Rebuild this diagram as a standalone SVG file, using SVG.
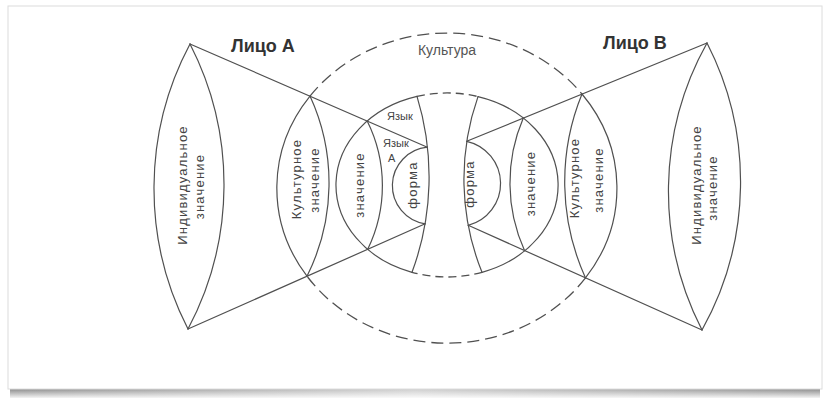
<svg xmlns="http://www.w3.org/2000/svg" width="830" height="399" viewBox="0 0 830 399">
<defs>
<style>
.ln{fill:none;stroke:#505050;stroke-width:1.2;stroke-linecap:round}
.dB{fill:none;stroke:#505050;stroke-width:1.3;stroke-dasharray:12 6}
.dS{fill:none;stroke:#505050;stroke-width:1.3;stroke-dasharray:8 5}
.t{font-family:"Liberation Sans",Arial,sans-serif;font-size:13px;fill:#444;letter-spacing:1.2px;text-anchor:middle}
.s{font-family:"Liberation Sans",Arial,sans-serif;font-size:11px;fill:#444}
.h{font-family:"Liberation Sans",Arial,sans-serif;font-size:18px;font-weight:bold;fill:#333}
</style>
<linearGradient id="sh" x1="0" y1="0" x2="1" y2="0">
<stop offset="0" stop-color="#8c8c8c"/>
<stop offset="0.5" stop-color="#cfcfcf"/>
<stop offset="1" stop-color="#8c8c8c"/>
</linearGradient>
<linearGradient id="shv" x1="0" y1="0" x2="0" y2="1">
<stop offset="0" stop-color="#fff" stop-opacity="0"/>
<stop offset="1" stop-color="#fff" stop-opacity="0.9"/>
</linearGradient>
</defs>
<rect width="830" height="399" fill="#fff"/>
<g id="card">
<rect x="10" y="389" width="810" height="9" fill="url(#sh)"/>
<rect x="10" y="389" width="810" height="9" fill="url(#shv)"/>
<rect x="8" y="6" width="814" height="383" fill="#fff" stroke="#dcdcdc" stroke-width="1"/>
</g>

<g id="culture">
<path class="ln" d="M310,96.1 A170,155 0 0 0 307,276.2"/>
<path class="ln" d="M582,94 A170,155 0 0 1 585.5,277.9"/>
<path class="dB" d="M310,96.1 A170,155 0 0 1 582,94"/>
<path class="dB" d="M585.5,277.9 A170,155 0 0 1 307,276.2"/>
<text x="447" y="55" style="font-family:'Liberation Sans',Arial,sans-serif;font-size:14px;fill:#555;text-anchor:middle">Культура</text>
</g>

<g id="language">
<path class="ln" d="M417,96.4 A111,92 0 0 0 412,272.3"/>
<path class="ln" d="M478,96.6 A111,92 0 0 1 482,272.3"/>
<path class="dS" d="M417,96.4 A111,92 0 0 1 478,96.6"/>
<path class="dS" d="M482,272.3 A111,92 0 0 1 412,272.3"/>
<text class="s" x="387" y="120">Язык</text>
<text class="s" x="383" y="147">Язык</text>
<text class="s" x="388" y="162">А</text>
</g>

<g id="personA">
<text class="h" x="231" y="52">Лицо А</text>
</g>
<g id="personB">
<text class="h" x="603" y="49">Лицо В</text>
</g>

<g id="individualA">
<path class="ln" d="M190,44 A307.6,307.6 0 0 0 188,329"/>
<path class="ln" d="M190,44 A307.6,307.6 0 0 1 188,329"/>
<text class="t" transform="translate(186.5,185) rotate(-90)">Индивидуальное</text>
<text class="t" transform="translate(203.5,186.5) rotate(-90)">значение</text>
</g>

<g id="culturalA">
<path class="ln" d="M310,96.1 A208,208 0 0 1 307,276.2"/>
<text class="t" transform="translate(301,179) rotate(-90)">Культурное</text>
<text class="t" transform="translate(318.5,180) rotate(-90)">значение</text>
</g>

<g id="meaningA">
<path class="ln" d="M367.2,121 A145,145 0 0 1 367.6,249.4"/>
<text class="t" transform="translate(363.5,185) rotate(-90)">значение</text>
</g>

<g id="formA">
<path class="ln" d="M417,96.4 A274.3,274.3 0 0 1 412,272.3"/>
<path class="ln" d="M427.4,147.2 A38.6,38.6 0 0 0 425.2,223.8"/>
<text class="t" transform="translate(416.5,185) rotate(-90)">форма</text>
</g>

<g id="formB">
<path class="ln" d="M478,96.6 A249,249 0 0 0 482,272.3"/>
<path class="ln" d="M466.7,141.3 A43.2,43.2 0 0 1 468.2,225.3"/>
<text class="t" transform="translate(473.5,184) rotate(-90)">форма</text>
</g>

<g id="meaningB">
<path class="ln" d="M523.3,118.1 A164,164 0 0 0 524.6,250.7"/>
<text class="t" transform="translate(534.5,183.5) rotate(-90)">значение</text>
</g>

<g id="culturalB">
<path class="ln" d="M582,94 A232,232 0 0 0 585.5,277.9"/>
<text class="t" transform="translate(578.5,178) rotate(-90)">Культурное</text>
<text class="t" transform="translate(602.5,180) rotate(-90)">значение</text>
</g>

<g id="individualB">
<path class="ln" d="M707,43 A304,304 0 0 0 702,330"/>
<path class="ln" d="M707,43 A304,304 0 0 1 702,330"/>
<text class="t" transform="translate(700.5,185) rotate(-90)">Индивидуальное</text>
<text class="t" transform="translate(716.5,188) rotate(-90)">значение</text>
</g>

<g id="connectors">
<line class="ln" x1="190" y1="44" x2="427.4" y2="147.2"/>
<line class="ln" x1="188" y1="329" x2="425.2" y2="223.8"/>
<line class="ln" x1="707" y1="43" x2="466.7" y2="141.3"/>
<line class="ln" x1="702" y1="330" x2="468.2" y2="225.3"/>
</g>
</svg>
